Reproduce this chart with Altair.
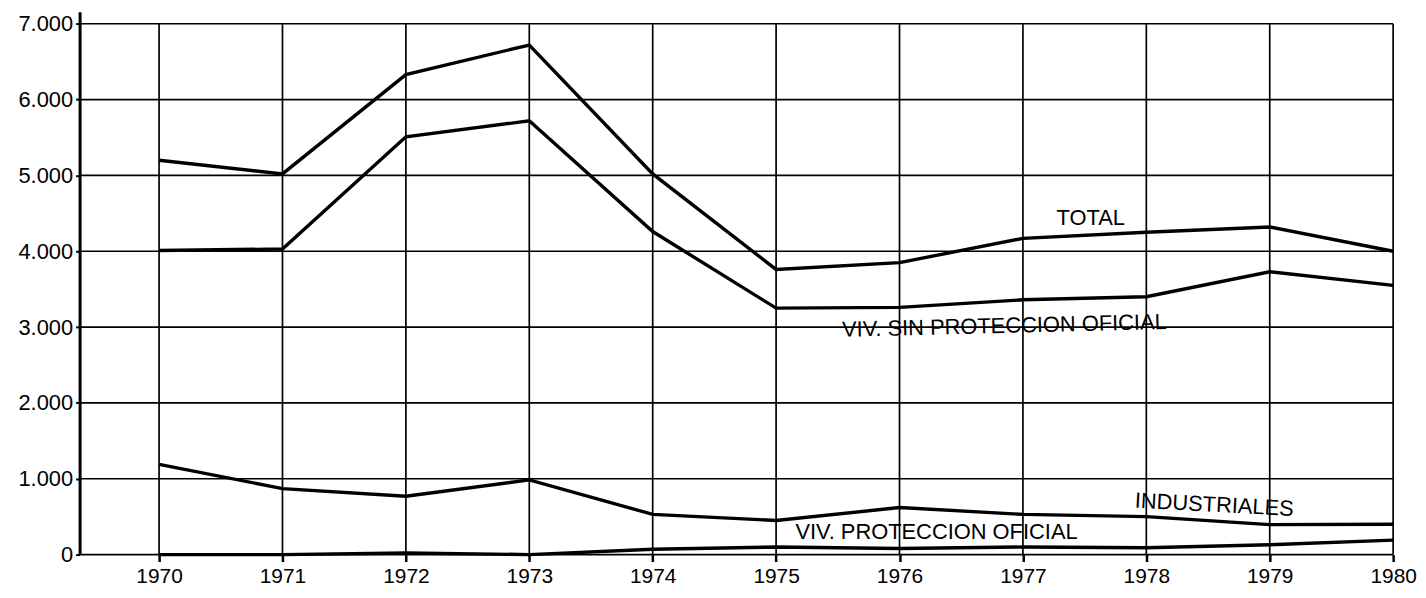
import altair as alt
import pandas as pd

years = [1970, 1971, 1972, 1973, 1974, 1975, 1976, 1977, 1978, 1979, 1980]
total = [5200, 5020, 6330, 6720, 5020, 3760, 3850, 4170, 4250, 4320, 4000]
sin_proteccion = [4010, 4030, 5510, 5720, 4260, 3250, 3260, 3360, 3400, 3730, 3550]
industriales = [1190, 870, 770, 985, 530, 450, 620, 530, 500, 395, 400]
proteccion = [0, 0, 20, 0, 70, 100, 80, 100, 90, 130, 190]

y_ticks = [0, 1000, 2000, 3000, 4000, 5000, 6000, 7000]

label_text = ["TOTAL", "VIV. SIN PROTECCION OFICIAL", "INDUSTRIALES", "VIV. PROTECCION OFICIAL"]
label_x = [1977.55, 1976.85, 1978.55, 1976.3]
label_y = [4432, 3016, 656, 302]
label_angle = [0, 358.6, 3, 0]

series = {
    "TOTAL": total,
    "VIV. SIN PROTECCION OFICIAL": sin_proteccion,
    "INDUSTRIALES": industriales,
    "VIV. PROTECCION OFICIAL": proteccion,
}
rows = []
for name, vals in series.items():
    for yr, v in zip(years, vals):
        rows.append({"serie": name, "year": yr, "value": v})
df = pd.DataFrame(rows)

df_years = pd.DataFrame({"year": years})
df_yt = pd.DataFrame({"v": y_ticks})
df_lab = pd.DataFrame({"text": label_text, "x": label_x, "y": label_y, "angle": label_angle})

X0 = 1969.356
xscale = alt.Scale(domain=[X0, 1980], nice=False, zero=False)
yscale = alt.Scale(domain=[0, 7160], nice=False, zero=False)

FONT = "Liberation Sans"

xaxis = alt.Axis(values=years, format="d", labelFontSize=21, labelFont=FONT, labelColor="black",
                 tickSize=7, tickWidth=2.5, tickColor="black", domain=False, grid=False,
                 labelPadding=4, labelFlush=False, title=None)
yaxis = alt.Axis(values=y_ticks, labelExpr="replace(format(datum.value, ','), ',', '.')",
                 labelFontSize=22, labelFont=FONT, labelColor="black",
                 tickSize=4, tickWidth=2, tickColor="black", labelFlush=False,
                 domainWidth=3, domainColor="black", grid=False, labelPadding=3, title=None)

vgrid = alt.Chart(df_years).mark_rule(color="black", strokeWidth=1.7).encode(
    x=alt.X("year:Q", scale=xscale, axis=xaxis),
    y=alt.datum(0, scale=yscale, axis=yaxis),
    y2=alt.datum(7000),
)

hgrid = alt.Chart(df_yt).mark_rule(color="black", strokeWidth=1.7).encode(
    y=alt.Y("v:Q", scale=yscale, axis=yaxis),
    x=alt.datum(X0, scale=xscale, axis=xaxis),
    x2=alt.datum(1980),
)

lines = alt.Chart(df).mark_line(color="black", strokeWidth=3.4, strokeJoin="miter").encode(
    x=alt.X("year:Q", scale=xscale, axis=xaxis),
    y=alt.Y("value:Q", scale=yscale, axis=yaxis),
    detail="serie:N",
)

labels = alt.Chart(df_lab).mark_text(font=FONT, fontSize=22, color="black",
                                     align="center", baseline="middle").encode(
    x=alt.X("x:Q", scale=xscale, axis=xaxis),
    y=alt.Y("y:Q", scale=yscale, axis=yaxis),
    text="text:N",
    angle=alt.Angle("angle:Q", scale=None),
)

chart = alt.layer(hgrid, vgrid, lines, labels).properties(
    width=1321, height=546,
    autosize=alt.AutoSizeParams(type="none"),
    padding={"left": 72, "top": 2, "right": 25, "bottom": 40},
    background="white",
).configure_view(strokeWidth=0)

chart.save("out.html", embed_options={"renderer": "svg", "actions": False})
